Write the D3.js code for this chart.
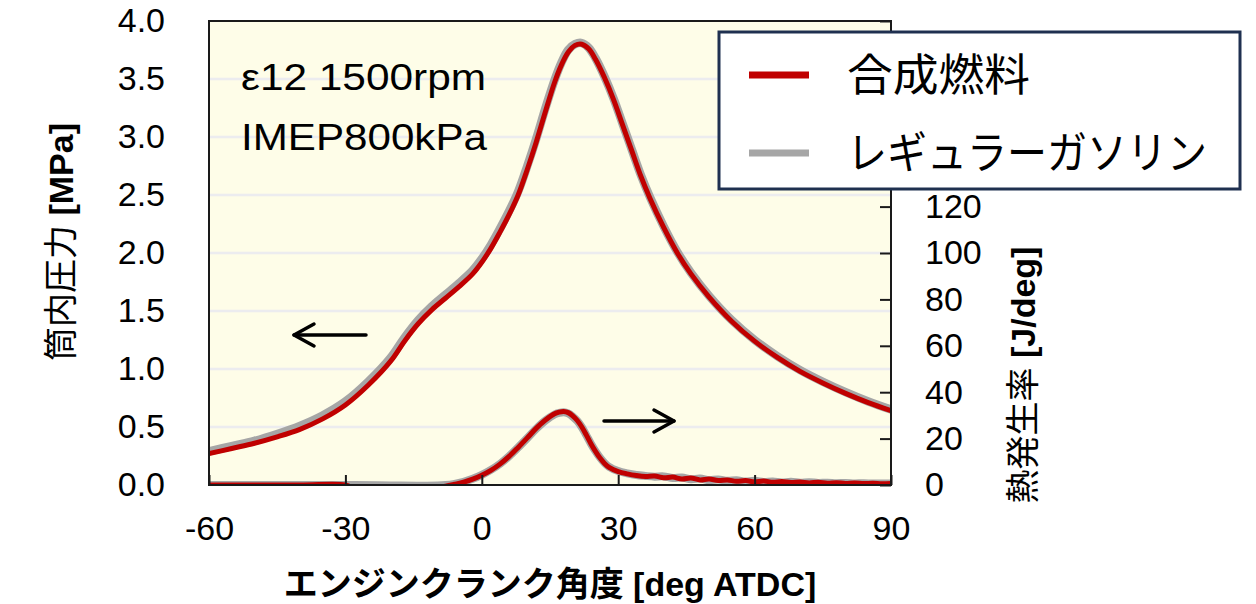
<!DOCTYPE html>
<html>
<head>
<meta charset="utf-8">
<script src="https://cdn.jsdelivr.net/npm/d3@7/dist/d3.min.js"></script>
<style>
  body { margin: 0; background: #fff; }
  svg text { font-family: "Liberation Sans", Arial, "Noto Sans CJK JP", sans-serif; fill: #000; }
</style>
</head>
<body>
<div id="chart"></div>
<script>
(function(){

  // crank angle [deg ATDC] for the cylinder pressure traces
  var pAngle = [-60, -55, -50, -45, -40, -35, -30, -25, -20, -17, -14, -11, -8, -5, -2, 0, 2, 4, 6, 8,
    10, 12, 14, 16, 17.5, 19, 20.5, 22, 23.5, 25, 27, 29, 31, 33, 35, 37, 40, 43, 46, 50, 55, 60, 65, 70, 75, 80, 85, 90];
  // cylinder pressure [MPa]
  var pSynth = [0.27, 0.315, 0.36, 0.415, 0.48, 0.57, 0.69, 0.86, 1.07, 1.24, 1.39, 1.51, 1.61, 1.71, 1.82, 1.92, 2.04, 2.18, 2.33, 2.50,
    2.72, 2.96, 3.22, 3.47, 3.62, 3.73, 3.79, 3.80, 3.76, 3.67, 3.51, 3.32, 3.10, 2.88, 2.66, 2.47, 2.22, 2.00, 1.82, 1.62, 1.41, 1.24, 1.10, 0.98, 0.88, 0.79, 0.71, 0.64];
  var pGas = [0.29, 0.335, 0.38, 0.44, 0.51, 0.60, 0.72, 0.89, 1.10, 1.27, 1.42, 1.54, 1.64, 1.74, 1.85, 1.95, 2.07, 2.21, 2.36, 2.53,
    2.75, 2.99, 3.25, 3.49, 3.64, 3.75, 3.80, 3.81, 3.77, 3.68, 3.52, 3.33, 3.11, 2.89, 2.67, 2.48, 2.23, 2.01, 1.83, 1.63, 1.42, 1.25, 1.11, 0.99, 0.89, 0.80, 0.72, 0.65];

  // crank angle for the heat release rate traces
  var hAngle = [-60, -40, -30, -28, -20, -12, -8, -6, -4, -2, 0, 2, 4, 6, 8, 10, 12, 14, 16, 17, 18, 19, 20, 21, 22, 23, 24, 25, 26, 27, 28,
    30, 32, 34, 36, 38, 40, 42, 44, 46, 48, 50, 52, 54, 56, 58, 60, 62, 64, 66, 68, 70, 72, 74, 76, 78, 80, 82, 84, 86, 88, 90];
  // heat release rate [J/deg]
  var hSynth = [0, 0, 0, -1.5, -1.8, -1.5, -0.5, 0.3, 1.2, 2.5, 4.2, 6.3, 9.0, 12.3, 16.2, 20.3, 24.5, 28.0, 30.7, 31.4, 31.7, 31.2, 29.8, 27.8, 25.0, 21.5, 17.8, 14.5, 11.6, 9.3, 7.6,
    5.8, 4.8, 4.1, 3.7, 3.9, 3.1, 3.4, 2.6, 3.0, 2.2, 2.6, 1.9, 2.2, 1.6, 1.9, 1.4, 1.7, 1.2, 1.5, 1.1, 1.3, 0.9, 1.2, 0.8, 1.0, 0.7, 0.9, 0.6, 0.8, 0.5, 0.7];
  var hGas = [0, 0, 0, 0, -0.2, -0.3, 0, 0.5, 1.4, 2.7, 4.4, 6.5, 9.1, 12.4, 16.2, 20.2, 24.3, 27.8, 30.4, 31.1, 31.4, 30.9, 29.5, 27.6, 24.9, 21.4, 17.8, 14.6, 11.8, 9.5, 7.8,
    6.0, 5.0, 4.3, 3.9, 3.6, 3.7, 3.0, 3.2, 2.5, 2.8, 2.1, 2.4, 1.8, 2.0, 1.5, 1.8, 1.3, 1.5, 1.1, 1.4, 1.0, 1.2, 0.9, 1.0, 0.8, 0.9, 0.7, 0.8, 0.6, 0.7, 0.6];

  var xTicks = [-60, -30, 0, 30, 60, 90];
  var pTicks = [0, 0.5, 1, 1.5, 2, 2.5, 3, 3.5, 4];
  var hTicks = [0, 20, 40, 60, 80, 100, 120, 140, 160, 180, 200];

  var seriesNames = ['合成燃料', 'レギュラーガソリン'];
  var seriesColors = ['#c00000', '#a6a6a6'];

  var W = 1256, H = 604;
  var m = {left: 209, right: 891, top: 21, bottom: 485};

  var x = d3.scaleLinear().domain([-60, 90]).range([m.left, m.right]);
  var yP = d3.scaleLinear().domain([0, 4]).range([m.bottom, m.top]);
  var yH = d3.scaleLinear().domain([0, 200]).range([m.bottom, m.top]);

  var svg = d3.select('#chart')
    .append('svg')
    .attr('width', W)
    .attr('height', H);

  svg.append('defs')
    .append('clipPath')
    .attr('id', 'plotclip')
    .append('rect')
    .attr('x', m.left)
    .attr('y', m.top)
    .attr('width', m.right - m.left)
    .attr('height', m.bottom - m.top);

  // plot background
  svg.append('rect')
    .attr('x', m.left)
    .attr('y', m.top)
    .attr('width', m.right - m.left)
    .attr('height', m.bottom - m.top)
    .attr('fill', '#fefde8');

  // gridlines
  svg.append('g')
    .selectAll('line')
    .data(pTicks.filter(function(d) { return d > 0 && d < 4; }))
    .enter()
    .append('line')
    .attr('x1', m.left)
    .attr('x2', m.right)
    .attr('y1', function(d) { return yP(d); })
    .attr('y2', function(d) { return yP(d); })
    .attr('stroke', '#ececef')
    .attr('stroke-width', 2.5);

  // curves
  var curves = svg.append('g').attr('clip-path', 'url(#plotclip)');

  function drawLine(xs, ys, yScale, color, width) {
    var line = d3.line()
      .x(function(d, i) { return x(xs[i]); })
      .y(function(d) { return yScale(d); })
      .curve(d3.curveCatmullRom.alpha(0.5));
    curves.append('path')
      .datum(ys)
      .attr('d', line)
      .attr('fill', 'none')
      .attr('stroke', color)
      .attr('stroke-width', width)
      .attr('stroke-linejoin', 'round')
      .attr('stroke-linecap', 'round');
  }

  drawLine(hAngle, hGas, yH, seriesColors[1], 8);
  drawLine(hAngle, hSynth, yH, seriesColors[0], 5);
  drawLine(pAngle, pGas, yP, seriesColors[1], 8.5);
  drawLine(pAngle, pSynth, yP, seriesColors[0], 5);

  // frame
  svg.append('rect')
    .attr('x', m.left)
    .attr('y', m.top)
    .attr('width', m.right - m.left)
    .attr('height', m.bottom - m.top)
    .attr('fill', 'none')
    .attr('stroke', '#1a1a1a')
    .attr('stroke-width', 2);

  // axes
  var xAxis = d3.axisBottom(x)
    .tickValues(xTicks)
    .tickSizeInner(-10)
    .tickSizeOuter(0)
    .tickPadding(31)
    .tickFormat(function(d) { return String(d); });
  var gx = svg.append('g')
    .attr('transform', 'translate(0,' + m.bottom + ')')
    .call(xAxis);

  var yAxisL = d3.axisLeft(yP)
    .tickValues(pTicks)
    .tickSize(0)
    .tickPadding(44)
    .tickFormat(d3.format('.1f'));
  var gyl = svg.append('g')
    .attr('transform', 'translate(' + m.left + ',0)')
    .call(yAxisL);

  var yAxisR = d3.axisRight(yH)
    .tickValues(hTicks)
    .tickSizeInner(-11)
    .tickSizeOuter(0)
    .tickPadding(34)
    .tickFormat(function(d) { return d <= 120 ? d : ''; });
  var gyr = svg.append('g')
    .attr('transform', 'translate(' + m.right + ',0)')
    .call(yAxisR);

  [gx, gyl, gyr].forEach(function(g) {
    g.select('.domain').remove();
    g.selectAll('.tick line').attr('stroke', '#1a1a1a').attr('stroke-width', 2);
    g.selectAll('.tick text')
      .style('font-size', '34px')
      .attr('fill', '#000');
  });

  // axis titles
  svg.append('text')
    .attr('x', (m.left + m.right) / 2)
    .attr('y', 596)
    .attr('text-anchor', 'middle')
    .style('font-size', '34px')
    .style('font-weight', 'bold')
    .text('エンジンクランク角度 [deg ATDC]');

  var tl = svg.append('text')
    .attr('transform', 'translate(73,242) rotate(-90)')
    .attr('text-anchor', 'middle')
    .style('font-size', '34px');
  tl.append('tspan').text('筒内圧力 ');
  tl.append('tspan').style('font-weight', 'bold').text('[MPa]');

  var tr = svg.append('text')
    .attr('transform', 'translate(1035,375) rotate(-90)')
    .attr('text-anchor', 'middle')
    .style('font-size', '34px');
  tr.append('tspan').text('熱発生率 ');
  tr.append('tspan').style('font-weight', 'bold').text('[J/deg]');

  // condition note
  svg.append('text')
    .attr('x', 241)
    .attr('y', 90)
    .attr('textLength', 245)
    .attr('lengthAdjust', 'spacingAndGlyphs')
    .style('font-size', '37px')
    .text('ε12 1500rpm');
  svg.append('text')
    .attr('x', 241)
    .attr('y', 150)
    .attr('textLength', 246)
    .attr('lengthAdjust', 'spacingAndGlyphs')
    .style('font-size', '37px')
    .text('IMEP800kPa');

  // arrows pointing to the axis each curve belongs to
  function arrow(x1, x2, yv) {
    var dir = x2 > x1 ? 1 : -1;
    var g = svg.append('g')
      .attr('stroke', '#000')
      .attr('stroke-width', 3.5)
      .attr('fill', 'none')
      .attr('stroke-linecap', 'round')
      .attr('stroke-linejoin', 'round');
    g.append('line').attr('x1', x1).attr('x2', x2).attr('y1', yv).attr('y2', yv);
    g.append('path')
      .attr('d', 'M' + (x2 - dir * 20) + ',' + (yv - 11) + 'L' + x2 + ',' + yv + 'L' + (x2 - dir * 20) + ',' + (yv + 11));
  }
  arrow(366, 294, 335);
  arrow(604, 674, 421);

  // legend
  var lg = svg.append('g');
  lg.append('rect')
    .attr('x', 719)
    .attr('y', 32)
    .attr('width', 521)
    .attr('height', 157)
    .attr('fill', '#fff')
    .attr('stroke', '#1f3050')
    .attr('stroke-width', 3);

  var legY = [75, 153];
  var legLen = [183, 360];
  lg.selectAll('line.leg')
    .data(seriesNames)
    .enter()
    .append('line')
    .attr('class', 'leg')
    .attr('x1', 749)
    .attr('x2', 809)
    .attr('y1', function(d, i) { return legY[i]; })
    .attr('y2', function(d, i) { return legY[i]; })
    .attr('stroke', function(d, i) { return seriesColors[i]; })
    .attr('stroke-width', 7);
  lg.selectAll('text.leg')
    .data(seriesNames)
    .enter()
    .append('text')
    .attr('class', 'leg')
    .attr('x', 847)
    .attr('y', function(d, i) { return legY[i] + 16; })
    .attr('textLength', function(d, i) { return legLen[i]; })
    .attr('lengthAdjust', 'spacingAndGlyphs')
    .style('font-size', '44px')
    .text(function(d) { return d; });

})();
</script>
</body>
</html>
